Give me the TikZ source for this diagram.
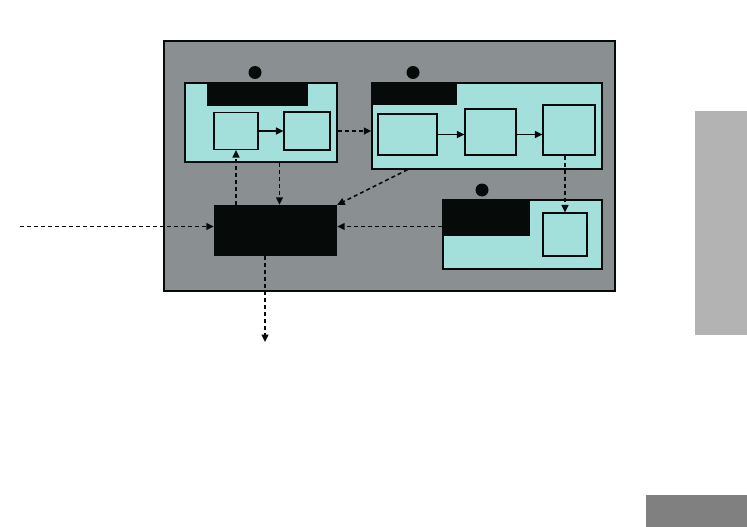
\documentclass[tikz,border=0pt]{standalone}
\usepackage{tikz}
\usepackage{xcolor}
\usetikzlibrary{arrows.meta}
\definecolor{painel}{HTML}{8A9091}
\definecolor{ciano}{HTML}{A3E0DB}
\definecolor{preto}{HTML}{060B0A}
\definecolor{abacinza}{HTML}{B3B3B3}
\definecolor{rodape}{HTML}{808080}

\begin{document}
\begin{tikzpicture}[x=1pt,y=-1pt,
    caixa/.style={draw=preto, line width=1.4pt, fill=ciano, inner sep=0pt},
    sub/.style={draw=preto, line width=1.2pt, fill=ciano, inner sep=0pt},
    cabeca/.style={fill=preto, inner sep=0pt},
    bola/.style={circle, fill=preto, inner sep=0pt, minimum size=13pt},
    fluxo/.style={line width=1.5pt, draw=preto, -{Triangle[length=7.5pt,width=7pt]}},
    tracejado/.style={fluxo, dash pattern=on 4pt off 3pt}]
\useasboundingbox (0,0) rectangle (747,527);

% Abas cinzentas na margem
\fill[abacinza] (695,111) rectangle (747,335);
\fill[rodape] (646,495) rectangle (747,527);

% Painel principal
\node[draw=preto, line width=1.4pt, fill=painel, minimum width=451pt, minimum height=250pt, inner sep=0pt] (painel) at (389.5,166) {};

% Bloco A
\node[caixa, minimum width=152pt, minimum height=79pt] (a) at (261,122.5) {};
\node[cabeca, minimum width=101pt, minimum height=23pt] (acab) at (257.5,94.5) {};
\node[bola] (abola) at (255,72.5) {};
\node[sub, minimum width=44pt, minimum height=37pt] (a1) at (236,131) {};
\node[sub, minimum width=46pt, minimum height=38pt] (a2) at (307,131) {};
\draw[fluxo] (a1.east) -- (a2.west);

% Bloco B
\node[caixa, minimum width=230pt, minimum height=86pt] (b) at (487,126) {};
\node[cabeca, minimum width=85pt, minimum height=22pt] (bcab) at (414.5,94) {};
\node[bola] (bbola) at (413,72.5) {};
\node[sub, minimum width=59pt, minimum height=41pt] (b1) at (407.5,134.5) {};
\node[sub, minimum width=51pt, minimum height=46pt] (b2) at (490.5,132) {};
\node[sub, minimum width=52pt, minimum height=50pt] (b3) at (569,130) {};
\draw[fluxo] (b1.east) -- (b1.east -| b2.west);
\draw[fluxo] (b1.east -| b2.east) -- (b1.east -| b3.west);

% Bloco C
\node[caixa, minimum width=159pt, minimum height=69pt] (c) at (522.5,234.5) {};
\node[cabeca, minimum width=87pt, minimum height=36pt] (ccab) at (486.5,218) {};
\node[bola] (cbola) at (482,190) {};
\node[sub, minimum width=44pt, minimum height=43pt] (c1) at (565,234.5) {};

% Bloco D
\node[cabeca, minimum width=123pt, minimum height=51pt] (d) at (275.5,230.5) {};

% Ligacoes
\coordinate (entrada) at (20,226.5);
\coordinate (saida) at (265,342);
\draw[tracejado] (a.east |- a2) -- (b.west |- a2);
\draw[tracejado] (a1.south |- d.north) -- (a1.south);
\draw[tracejado] ([xshift=4pt]d.north |- a.south) -- ([xshift=4pt]d.north);
\draw[tracejado] (b1.south |- b.south) -- (d.north east);
\draw[tracejado] (c.west |- entrada) -- (d.east |- entrada);
\draw[tracejado] (c1.north |- b3.south) -- (c1.north);
\draw[tracejado] (entrada) -- (entrada -| d.west);
\draw[tracejado] (saida |- d.south) -- (saida);
\end{tikzpicture}
\end{document}
